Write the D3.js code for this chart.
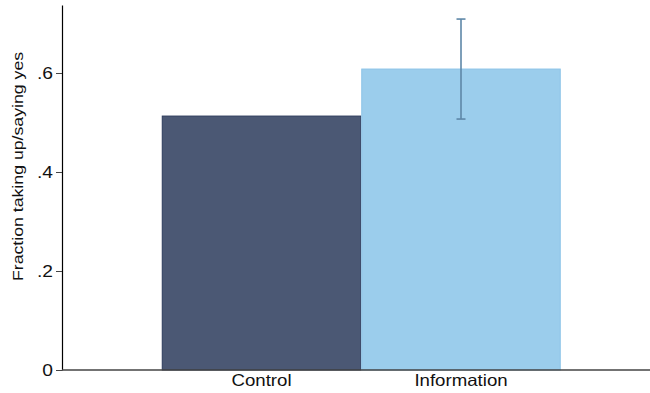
<!DOCTYPE html>
<html>
<head>
<meta charset="utf-8">
<script src="https://cdn.jsdelivr.net/npm/d3@7"></script>
<style>
  html, body { margin: 0; padding: 0; background: #fff; }
  svg { display: block; }
  text { font-family: "Liberation Sans", Arial, sans-serif; }
</style>
</head>
<body>
<svg id="chart" width="650" height="393"></svg>
<script>
// Take-up by treatment arm
const categories = ["Control", "Information"];
const values = [0.513, 0.608];
const ciLow = [null, 0.507];
const ciHigh = [null, 0.709];
const yTicks = [0, 0.2, 0.4, 0.6];
const yTickLabels = ["0", ".2", ".4", ".6"];
const yTitle = "Fraction taking up/saying yes";

const fills = ["#4b5874", "#9bcdec"];
const strokes = ["#2c3b5c", "#8cc3e8"];

const plot = { left: 62, right: 650, top: 5, bottom: 370 };

const svg = d3.select("#chart");

// Widen text horizontally (wide-set typeface look)
function stretch(sel, k) {
  sel.each(function () {
    const w = this.getComputedTextLength();
    d3.select(this).attr("textLength", w * k).attr("lengthAdjust", "spacingAndGlyphs");
  });
}

const y = d3.scaleLinear().domain([0, 0.7374]).range([plot.bottom, plot.top]);
const x = d3.scaleBand()
  .domain(categories)
  .range([plot.left, 660.5])
  .paddingInner(0)
  .paddingOuter(0.5);

// Bars
svg.append("g").selectAll("rect")
  .data(categories)
  .join("rect")
  .attr("x", (d) => x(d) + 0.5)
  .attr("y", (d, i) => y(values[i]))
  .attr("width", x.bandwidth() - 1)
  .attr("height", (d, i) => y(0) - y(values[i]))
  .attr("fill", (d, i) => fills[i])
  .attr("stroke", (d, i) => strokes[i])
  .attr("stroke-width", 1);

// Confidence interval
const ci = categories.map((c, i) => ({ c, lo: ciLow[i], hi: ciHigh[i] }))
  .filter((d) => d.lo != null);
const ciG = svg.append("g").attr("stroke", "#5e87a8").attr("stroke-width", 1.6);
ci.forEach((d) => {
  const cx = x(d.c) + x.bandwidth() / 2;
  ciG.append("line").attr("x1", cx).attr("x2", cx).attr("y1", y(d.hi)).attr("y2", y(d.lo));
  ciG.append("line").attr("x1", cx - 4.5).attr("x2", cx + 4.5).attr("y1", y(d.hi)).attr("y2", y(d.hi));
  ciG.append("line").attr("x1", cx - 4.5).attr("x2", cx + 4.5).attr("y1", y(d.lo)).attr("y2", y(d.lo));
});

// Y axis
const yAxis = d3.axisLeft(y)
  .tickValues(yTicks)
  .tickFormat((d, i) => yTickLabels[i])
  .tickSize(6)
  .tickPadding(3)
  .tickSizeOuter(0);
const yg = svg.append("g").attr("transform", `translate(${plot.left},0)`).call(yAxis);
yg.select(".domain").attr("stroke", "#000").attr("stroke-width", 1.2);
yg.selectAll(".tick line").attr("stroke", "#444");
yg.selectAll(".tick text").attr("font-size", 16).attr("fill", "#111")
  .attr("font-family", "Liberation Sans, Arial, sans-serif")
  .call(stretch, 1.2);

// X axis
const xAxis = d3.axisBottom(x).tickSize(0).tickPadding(4).tickSizeOuter(0);
const xg = svg.append("g").attr("transform", `translate(0,${plot.bottom})`).call(xAxis);
xg.select(".domain").attr("d", `M${plot.left},0H${plot.right}`)
  .attr("stroke", "#444").attr("stroke-width", 1.6);
xg.selectAll(".tick text").attr("font-size", 16.5).attr("fill", "#111")
  .attr("font-family", "Liberation Sans, Arial, sans-serif")
  .attr("dy", null).attr("y", 16)
  .call(stretch, 1.13);

// Y title
svg.append("text")
  .attr("transform", `translate(22.5,166.5) rotate(-90)`)
  .attr("text-anchor", "middle")
  .attr("font-size", 14.5)
  .attr("fill", "#111")
  .text(yTitle)
  .call(stretch, 1.22);
</script>
</body>
</html>
